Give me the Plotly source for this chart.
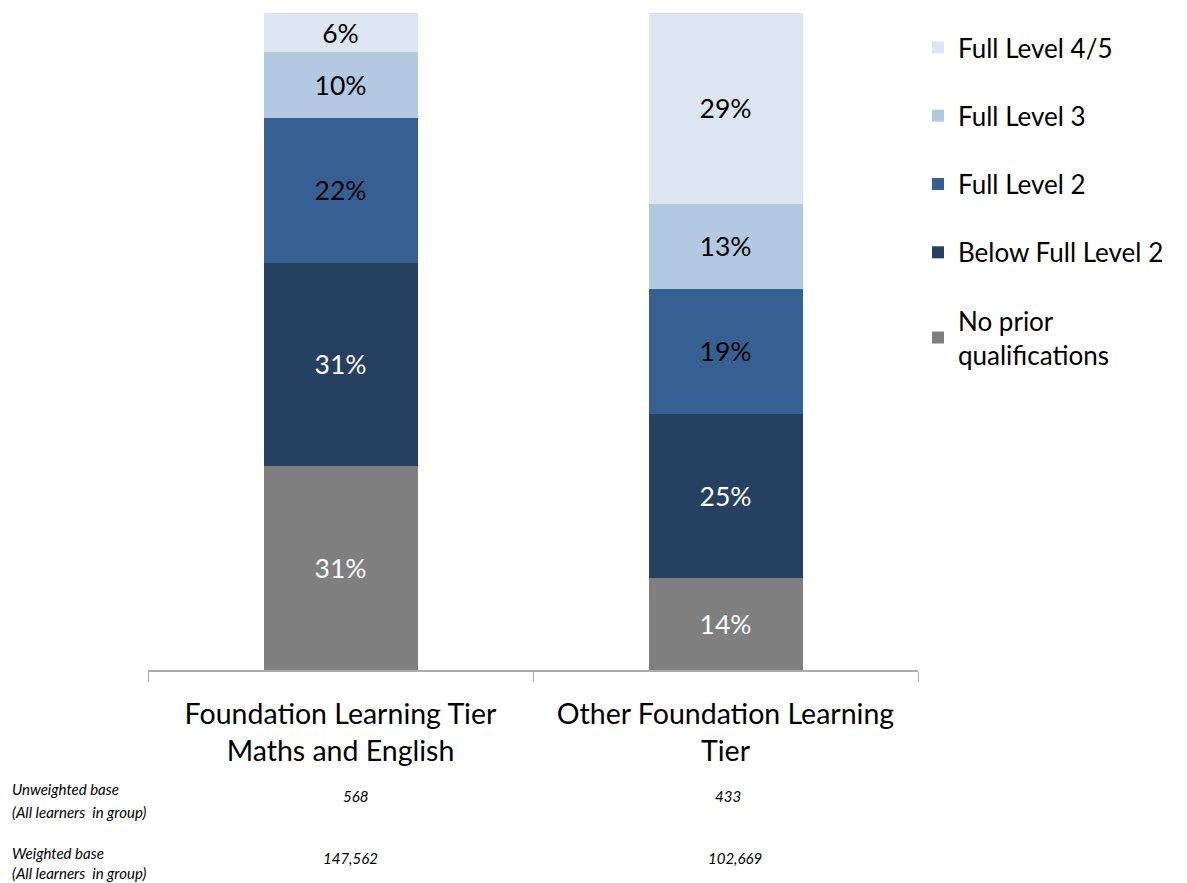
import plotly.graph_objects as go

categories = ["Foundation Learning Tier<br>Maths and English", "Other Foundation Learning<br>Tier"]
series_names = ["No prior<br>qualifications", "Below Full Level 2", "Full Level 2", "Full Level 3", "Full Level 4/5"]
no_prior = [31, 14]
below_l2 = [31, 25]
full_l2 = [22, 19]
full_l3 = [10, 13]
full_l45 = [6, 29]
series_values = [no_prior, below_l2, full_l2, full_l3, full_l45]
colors = ["#7F7F7F", "#254061", "#366092", "#B3C9E2", "#DCE6F1"]
text_colors = ["white", "white", "black", "black", "black"]
unweighted = ["568", "433"]
weighted = ["147,562", "102,669"]

FONT = "Lato, Open Sans, sans-serif"

fig = go.Figure()
for i, (name, vals) in enumerate(zip(series_names, series_values)):
    fig.add_trace(go.Bar(
        x=categories, y=vals, name=name,
        marker=dict(color=colors[i], line=dict(width=0)),
        text=[f"{v}%" for v in vals], textposition="inside",
        insidetextanchor="middle",
        textfont=dict(color=text_colors[i], size=26.5, family=FONT),
        legendgroup=f"g{i}",
        legendrank=100 - i,
        width=0.4,
    ))

OFF = 8  # page offset of the figure inside the browser
W, H = 1187 - OFF, 883 - OFF
L = 148 - OFF
T = 13 - OFF
B = H - (670 - OFF)
R = W - (918 - OFF)
pw = W - L - R
ph = H - T - B

def px(x):
    return (x - OFF - L) / pw

def py(y):
    return (H - B - (y - OFF)) / ph

fig.update_layout(
    barmode="stack",
    width=W, height=H,
    margin=dict(l=L, r=R, t=T, b=B),
    plot_bgcolor="white", paper_bgcolor="white",
    font=dict(family=FONT, color="black"),
    showlegend=True,
    uniformtext=dict(mode=False),
    legend=dict(
        traceorder="grouped",
        x=px(918), y=py(24), xanchor="left", yanchor="top",
        font=dict(size=26, family=FONT),
        tracegroupgap=31.5,
        itemwidth=30,
    ),
    xaxis=dict(
        showline=True, linecolor="#ABABAB", linewidth=1.5,
        ticks="outside", tickson="boundaries", ticklen=10, tickcolor="#ABABAB",
        tickfont=dict(size=28.5, family=FONT),
        ticklabelstandoff=18,
        showgrid=False,
    ),
    yaxis=dict(range=[0, 100], visible=False, showgrid=False),
)

ann_font = dict(size=15, family=FONT, color="black")
left_labels = [("<i>Unweighted base</i>", 789), ("<i>(All learners  in group)</i>", 812),
               ("<i>Weighted base</i>", 853), ("<i>(All learners  in group)</i>", 873)]
for txt, yy in left_labels:
    fig.add_annotation(text=txt, xref="paper", yref="paper",
                       x=px(10), y=py(yy), xanchor="left", yanchor="middle",
                       showarrow=False, font=ann_font)
ux = [355, 728]
wx = [350, 735]
for i in range(2):
    fig.add_annotation(text=f"<i>{unweighted[i]}</i>", xref="paper", yref="paper",
                       x=px(ux[i]), y=py(796), xanchor="center", yanchor="middle",
                       showarrow=False, font=ann_font)
    fig.add_annotation(text=f"<i>{weighted[i]}</i>", xref="paper", yref="paper",
                       x=px(wx[i]), y=py(858), xanchor="center", yanchor="middle",
                       showarrow=False, font=ann_font)

fig.write_html("out.html")
